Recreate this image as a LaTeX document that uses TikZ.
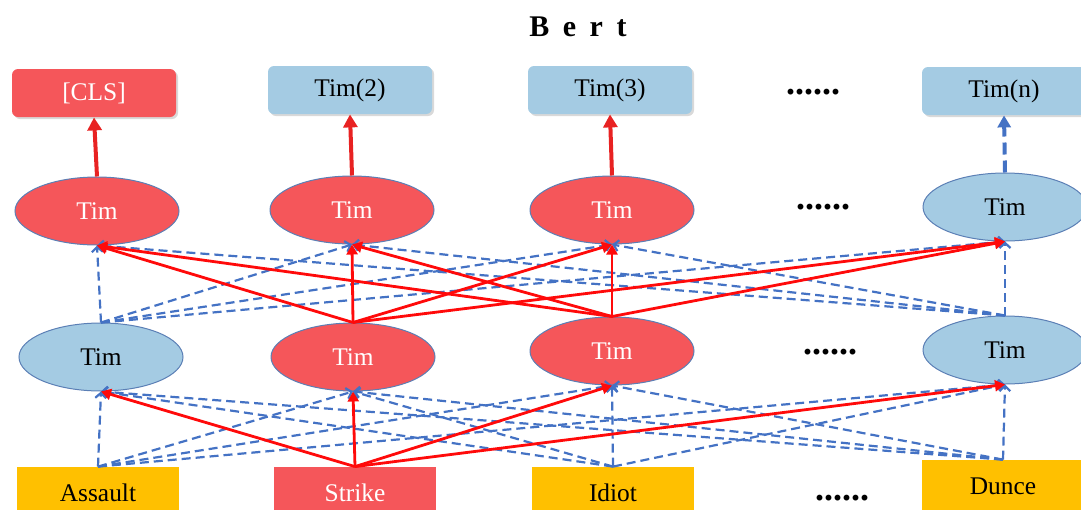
\documentclass[tikz,border=0pt]{standalone}
\usepackage{fontspec}
\setmainfont{Liberation Serif}
\usetikzlibrary{arrows.meta,shadows,shapes.geometric}

\definecolor{cellred}{HTML}{F5565A}
\definecolor{cellblue}{HTML}{A4CBE3}
\definecolor{wordgold}{HTML}{FFC000}
\definecolor{linkred}{HTML}{FF0A0A}
\definecolor{toplred}{HTML}{E82222}
\definecolor{linkblue}{HTML}{4472C4}
\definecolor{rimblue}{HTML}{5B7FB5}

\begin{document}
\begin{tikzpicture}[x=0.5pt,y=-0.5pt,
			font=\fontsize{12.7}{14}\selectfont,
			outbox/.style={
				rectangle,
				rounded corners=3pt,
				minimum width=82pt,
				minimum height=24pt,
				inner sep=0pt,
				drop shadow={shadow xshift=1pt,shadow yshift=-1pt,opacity=0.3}
			},
			cell/.style={
				ellipse,
				draw=rimblue,
				line width=0.5pt,
				minimum width=82pt,
				minimum height=34pt,
				inner sep=0pt
			},
			word/.style={rectangle, fill=wordgold, minimum width=81pt, minimum height=26pt, inner sep=0pt},
			hot/.style={fill=cellred, text=white},
			cold/.style={fill=cellblue, text=black},
			redlink/.style={color=linkred, line width=1.4pt, -{Triangle[length=5pt,width=5.5pt]}},
			bluelink/.style={color=linkblue, line width=1.1pt, dash pattern=on 4.5pt off 2.5pt, -{Straight Barb[length=2.5pt,width=5.5pt]}},
			topred/.style={draw=toplred, line width=2pt, -{Triangle[length=6.5pt,width=7pt]}},
			topblue/.style={draw=linkblue, line width=2pt, dash pattern=on 6pt off 3pt, -{Triangle[length=6pt,width=6.5pt]}},
			dots/.style={font=\fontsize{18}{18}\selectfont\bfseries}
			]
			\useasboundingbox (0,0) rectangle (1081,509);
			\clip (0,0) rectangle (1081,509);
			%---------------- TITLE ----------------
			\node[font=\fontsize{15}{18}\selectfont\bfseries] (title) at (578,27) {\spaceskip=.45em B e r t};
			%---------------- OUTPUT ----------------
			\node[outbox,hot] (cls) at (94,93) {[CLS]};
			\node[outbox,cold] (out2) at (350,90) {Tim(2)};
			\node[outbox,cold] (out3) at (610,90) {Tim(3)};
			\node[outbox,cold] (outn) at (1004,91) {Tim(n)};
			\node[dots] (dtop) at (813,92) {......};
			%---------------- UPPER LAYER ----------------
			\node[cell,hot] (up1) at (97,211) {Tim};
			\node[cell,hot] (up2) at (352,210) {Tim};
			\node[cell,hot] (up3) at (612,210) {Tim};
			\node[cell,cold] (up4) at (1005,207) {Tim};
			\node[dots] (dup) at (823,207) {......};
			%---------------- LOWER LAYER ----------------
			\node[cell,cold] (lo1) at (101,357) {Tim};
			\node[cell,hot] (lo2) at (353,357) {Tim};
			\node[cell,hot] (lo3) at (612,351) {Tim};
			\node[cell,cold] (lo4) at (1005,350) {Tim};
			\node[dots] (dlo) at (830,352) {......};
			%---------------- INPUT ----------------
			\node[word] (w1) at (98,493) {Assault};
			\node[word,fill=cellred,text=white] (w2) at (355,493) {Strike};
			\node[word] (w3) at (613,493) {Idiot};
			\node[word] (w4) at (1003,486) {Dunce};
			\node[dots] (dwd) at (842,498) {......};
			%---------------- LINKS ----------------
			\path[bluelink] (w1.north) edge (lo1.south) edge (lo2.south) edge (lo3.south) edge (lo4.south);
			\path[bluelink] (w3.north) edge (lo1.south) edge (lo2.south) edge (lo3.south) edge (lo4.south);
			\path[bluelink] (w4.north) edge (lo1.south) edge (lo2.south) edge (lo3.south) edge (lo4.south);
			\path[bluelink] (lo1.north) edge (up1.south) edge (up2.south) edge (up3.south) edge (up4.south);
			\path[bluelink] (lo4.north) edge (up1.south) edge (up2.south) edge (up3.south) edge (up4.south);
			\path[redlink] (w2.north) edge (lo1.south) edge (lo2.south) edge (lo3.south) edge (lo4.south);
			\path[redlink] (lo2.north) edge (up1.south) edge (up2.south) edge (up3.south) edge (up4.south);
			\path[redlink] (lo3.north) edge (up1.south) edge (up2.south) edge (up3.south) edge (up4.south);
			\draw[topred] (up1.north) -- (cls.south);
			\draw[topred] (up2.north) -- (out2.south);
			\draw[topred] (up3.north) -- (out3.south);
			\draw[topblue] (up4.north) -- (outn.south);
		\end{tikzpicture}
\end{document}
